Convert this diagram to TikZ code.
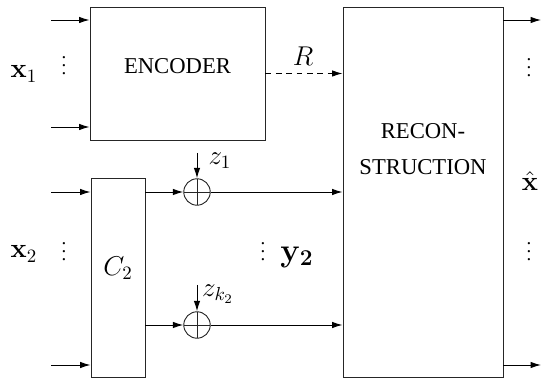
\documentclass[tikz,border=0pt]{standalone}
\usepackage{amsmath,amssymb}
\usepackage[no-math]{fontspec}
\setmainfont{Liberation Serif}
\usepackage{tikz}
\usetikzlibrary{arrows.meta,positioning,calc,fit}
\tikzset{
  blkbox/.style={draw=black!85, line width=0.5pt, fill=white, inner sep=0pt, align=center},
  sumnode/.style={draw=black!85, circle, line width=0.5pt, minimum size=14pt, inner sep=0pt,
    path picture={\draw[line width=0.5pt] (path picture bounding box.north) -- (path picture bounding box.south)
      (path picture bounding box.west) -- (path picture bounding box.east);}},
  sigline/.style={-{Latex[length=5.5pt,width=3.4pt]}, line width=0.5pt},
  dashline/.style={sigline, dash pattern=on 3pt off 2.5pt}
}

\begin{document}
\begin{tikzpicture}[x=0.53pt, y=-0.53pt]
  \useasboundingbox (0,0) rectangle (541,382);
  % blocks
  \node[blkbox, fit={(90,7) (265,140)}] (enc) {\large ENCODER};
  \node[blkbox, fit={(343,7) (503,377)}] (rec) {};
  \node[align=center, font=\large] (rectxt) at (423,149) {RECON-\\[5pt]STRUCTION};
  \node[blkbox, fit={(91,178) (145,377)}] (c2) {\Large $C_2$};
  \node[sumnode] (s1) at (197,192) {};
  \node[sumnode] (s2) at (197,325) {};
  % free ends
  \coordinate (in1) at (51,20);
  \coordinate (in2) at (51,127);
  \coordinate (in3) at (51,192);
  \coordinate (in4) at (51,365);
  \coordinate (out1) at (541,20);
  \coordinate (out2) at (541,365);
  \coordinate (zt1) at (197,153);
  \coordinate (zt2) at (197,285);
  % connectors
  \draw[sigline] (in1) -- (in1 -| enc.west);
  \draw[sigline] (in2) -- (in2 -| enc.west);
  \draw[sigline] (in3) -- (in3 -| c2.west);
  \draw[sigline] (in4) -- (in4 -| c2.west);
  \draw[dashline] (enc.east) -- (enc.east -| rec.west);
  \draw[sigline] (s1 -| c2.east) -- (s1);
  \draw[sigline] (s2 -| c2.east) -- (s2);
  \draw[sigline] (s1) -- (s1 -| rec.west);
  \draw[sigline] (s2) -- (s2 -| rec.west);
  \draw[sigline] (zt1) -- (s1);
  \draw[sigline] (zt2) -- (s2);
  \draw[sigline] (out1 -| rec.east) -- (out1);
  \draw[sigline] (out2 -| rec.east) -- (out2);
  % labels
  \node[font=\Large] (rlab) at (303,56) {$R$};
  \node[font=\Large] (z1lab) at (220,161) {$z_1$};
  \node[font=\Large] (zklab) at (218,294) {$z_{k_2}$};
  \node[font=\Large] (x1lab) at (24,74) {$\mathbf{x}_1$};
  \node[font=\Large] (x2lab) at (24,254) {$\mathbf{x}_2$};
  \node[font=\LARGE] (y2lab) at (297,257) {$\mathbf{y_2}$};
  \node[font=\Large] (xhat) at (530,181) {$\hat{\mathbf{x}}$};
  \node (x1dots) at (64,60) {$\vdots$};
  \node (x2dots) at (64,246) {$\vdots$};
  \node (y2dots) at (263,246) {$\vdots$};
  \node (o1dots) at (529,62) {$\vdots$};
  \node (o2dots) at (529,246) {$\vdots$};
\end{tikzpicture}
\end{document}
